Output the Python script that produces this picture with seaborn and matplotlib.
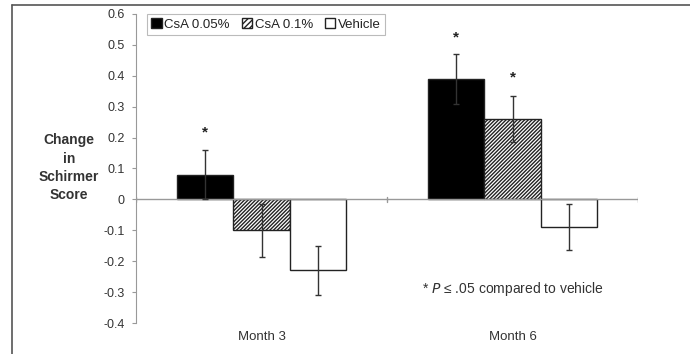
import pandas as pd
import matplotlib
matplotlib.use('Agg')
import matplotlib.pyplot as plt
from matplotlib.lines import Line2D
from matplotlib.patches import Patch
import seaborn as sns

# data
months = ['Month 3', 'Month 6']
treatments = ['CsA 0.05%', 'CsA 0.1%', 'Vehicle']
csa_005 = [0.08, 0.39]
csa_01 = [-0.10, 0.26]
vehicle = [-0.23, -0.09]
err_005 = [0.08, 0.08]
err_01 = [0.085, 0.075]
err_veh = [0.08, 0.075]
# asterisks: (month index, treatment index, height)
stars = [(0, 0, 0.215), (1, 0, 0.525), (1, 1, 0.395)]
yticks = [0.6, 0.5, 0.4, 0.3, 0.2, 0.1, 0, -0.1, -0.2, -0.3, -0.4]
ytick_labels = ['0.6', '0.5', '0.4', '0.3', '0.2', '0.1', '0', '-0.1', '-0.2', '-0.3', '-0.4']

df = pd.DataFrame({
    'month': months * 3,
    'treatment': [t for t in treatments for _ in months],
    'value': csa_005 + csa_01 + vehicle,
    'err': err_005 + err_01 + err_veh,
})

sns.set_style('white')
plt.rcParams['font.family'] = ['Liberation Sans', 'DejaVu Sans']
plt.rcParams['hatch.linewidth'] = 1.0

fig = plt.figure(figsize=(6.9, 3.54), dpi=100)
ax = fig.add_axes([136 / 690, 1 - 323 / 354, 502 / 690, 309 / 354])

palette = {'CsA 0.05%': 'black', 'CsA 0.1%': 'white', 'Vehicle': 'white'}
sns.barplot(data=df, x='month', y='value', hue='treatment', order=months,
            hue_order=treatments, palette=palette, width=0.67, edgecolor='#222222',
            linewidth=1.0, errorbar=None, legend=False, ax=ax)

# bars come out in hue order, one per month
bars = ax.patches[:6]
for i, p in enumerate(bars):
    t = i // 2
    m = i % 2
    if t == 1:
        p.set_hatch('/////////')
    row = df[(df.month == months[m]) & (df.treatment == treatments[t])].iloc[0]
    xc = p.get_x() + p.get_width() / 2
    ax.errorbar(xc, row.value, yerr=row.err, color='#333333', elinewidth=1.0,
                capsize=2.5, capthick=1.0, zorder=5)

for m, t, h in stars:
    p = bars[t * 2 + m]
    ax.text(p.get_x() + p.get_width() / 2, h, '*', ha='center', va='center',
            fontsize=11, fontweight='bold', color='#222222')

ax.axhline(0, color='#999999', lw=1.0, zorder=1)
for xt in [-0.5, 0.5, 1.5]:
    ax.plot([xt, xt], [-0.008, 0.008], color='#999999', lw=1.0, zorder=1)

ax.set_xlim(-0.5, 1.5)
ax.set_ylim(-0.4, 0.6)
ax.set_yticks(yticks)
ax.set_yticklabels(ytick_labels, fontsize=9, color='#333333')
ax.tick_params(axis='y', left=True, length=3, width=0.8, color='#999999', pad=5)
ax.tick_params(axis='x', bottom=False, length=0, pad=6, labelsize=9.5, labelcolor='#333333')
ax.set_xlabel('')
ax.set_ylabel('Change\nin\nSchirmer\nScore', rotation=0, fontsize=10,
              fontweight='bold', color='#333333', ha='center', va='center',
              linespacing=1.4)
ax.yaxis.set_label_coords(-0.133, 0.502)

for s in ['top', 'right', 'bottom']:
    ax.spines[s].set_visible(False)
ax.spines['left'].set_color('#999999')
ax.spines['left'].set_linewidth(0.8)

ax.text(0.64, -0.29, '* $\\it{P}$ \u2264 .05 compared to vehicle', fontsize=10,
        color='#333333', va='center', ha='left')

handles = [Patch(facecolor='black', edgecolor='#222222'),
           Patch(facecolor='white', edgecolor='#222222', hatch='//////'),
           Patch(facecolor='white', edgecolor='#222222')]
leg = ax.legend(handles, treatments, loc='upper left', bbox_to_anchor=(0.022, 1.0),
                ncol=3, fontsize=9.5, frameon=True, fancybox=False, borderaxespad=0,
                handlelength=0.8, handleheight=0.8, handletextpad=0.2,
                columnspacing=0.9, borderpad=0.3)
leg.get_frame().set_edgecolor('#aaaaaa')
leg.get_frame().set_linewidth(0.8)
for txt in leg.get_texts():
    txt.set_color('#222222')

# scan frame on top and left
fig.add_artist(Line2D([12 / 690, 1.0], [1 - 4.5 / 354, 1 - 4.5 / 354], color='#555555', lw=1.2))
fig.add_artist(Line2D([12 / 690, 12 / 690], [0, 1 - 4.5 / 354], color='#555555', lw=1.2))

fig.savefig('out.png', dpi=100)
